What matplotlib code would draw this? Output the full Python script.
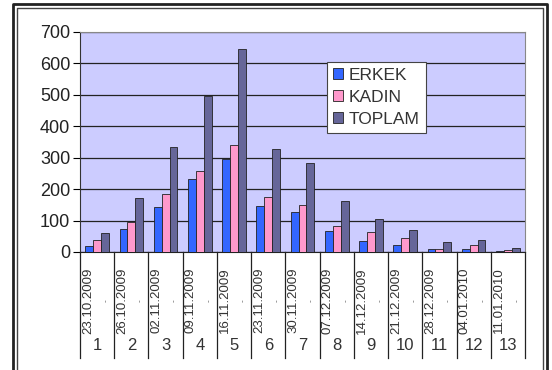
import numpy as np
import matplotlib
matplotlib.use("Agg")
import matplotlib.pyplot as plt
from matplotlib.lines import Line2D

plt.rcParams["font.family"] = ["Liberation Sans", "DejaVu Sans"]

# Weekly counts
weeks = ["1", "2", "3", "4", "5", "6", "7", "8", "9", "10", "11", "12", "13"]
dates = ["23.10.2009", "26.10.2009", "02.11.2009", "09.11.2009", "16.11.2009",
         "23.11.2009", "30.11.2009", "07.12.2009", "14.12.2009", "21.12.2009",
         "28.12.2009", "04.01.2010", "11.01.2010"]
erkek = [20, 73, 143, 233, 297, 146, 127, 67, 35, 23, 11, 11, 2]
kadin = [37, 95, 186, 259, 342, 176, 150, 84, 65, 44, 11, 21, 5]
toplam = [61, 172, 335, 496, 646, 329, 283, 161, 104, 70, 31, 37, 12]

series = [("ERKEK", erkek, "#3366FF"),
          ("KADIN", kadin, "#FF99CC"),
          ("TOPLAM", toplam, "#666699")]

fig = plt.figure(figsize=(5.52, 3.70), dpi=100)
ax = fig.add_axes([80 / 552, 1 - 252 / 370, 445 / 552, 220 / 370])
ax.set_facecolor("#CCCCFF")

x = np.arange(len(weeks))
w = 0.23
for i, (name, vals, col) in enumerate(series):
    ax.bar(x + (i - 1) * w, vals, w, color=col, edgecolor="#222222",
           linewidth=0.6, label=name, zorder=3)

ax.set_xlim(-0.5, len(weeks) - 0.5)
ax.set_ylim(0, 700)
ax.set_yticks(range(0, 701, 100))
ax.tick_params(axis="y", labelsize=13, length=5, width=0.8, pad=2,
               labelcolor="#222222")
ax.set_xticks([])
ax.yaxis.grid(True, color="#222222", linewidth=0.9, zorder=1)
ax.set_axisbelow(True)
for s in ["top", "right"]:
    ax.spines[s].set_color("#888888")
ax.spines["left"].set_color("#333333")
ax.spines["bottom"].set_color("#222222")

# multi-level category axis
trans = ax.get_xaxis_transform()
for b in np.arange(-0.5, len(weeks), 1.0):
    ax.plot([b, b], [0, -0.48], transform=trans, color="#222222",
            linewidth=0.9, clip_on=False)
for i in range(len(weeks)):
    ax.text(i - 0.27, -0.22, dates[i], transform=trans, rotation=90,
            ha="center", va="center", fontsize=9.5, color="#333333")
    ax.text(i + 0.27, -0.22, "-", transform=trans, rotation=90,
            ha="center", va="center", fontsize=6, color="#555555")
    ax.text(i, -0.425, weeks[i], transform=trans, ha="center", va="center",
            fontsize=12, color="#333333")

leg = ax.legend(loc="upper left", bbox_to_anchor=((327 - 80) / 445, (252 - 62) / 220),
                fontsize=12.5, frameon=True, fancybox=False, handlelength=0.6,
                handleheight=0.6, handletextpad=0.3, borderpad=0.35,
                labelspacing=0.4, borderaxespad=0)
for t in leg.get_texts():
    t.set_color("#333333")
leg.get_frame().set_edgecolor("#444444")
leg.get_frame().set_linewidth(0.8)
leg.get_frame().set_facecolor("white")
leg.get_frame().set_alpha(1)

# outer chart frame (open at the bottom, as in the cropped original)
for (x0, y0, x1, lw, col) in [(13, 4, 547, 2.0, "#222222"),
                              (17, 8, 543, 1.0, "#444444")]:
    fig.add_artist(Line2D([x0 / 552, x0 / 552, x1 / 552, x1 / 552],
                          [0, 1 - y0 / 370, 1 - y0 / 370, 0],
                          transform=fig.transFigure, color=col, linewidth=lw))

fig.savefig("out.png", dpi=100)
